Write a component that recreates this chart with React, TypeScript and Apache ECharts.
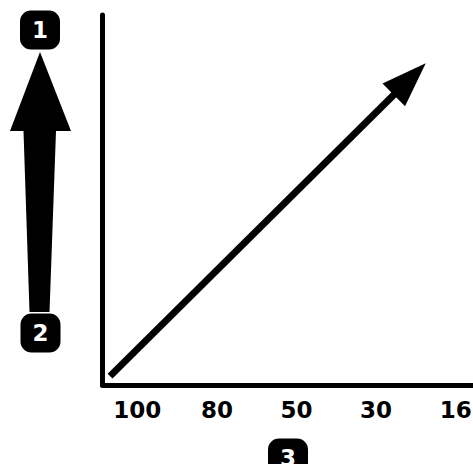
import React, { useEffect, useRef } from "react";
import * as echarts from "echarts";

const categories: string[] = ["100", "80", "50", "30", "16"];
const trendStart: number[] = [1.9, 2.4];
const trendEnd: number[] = [77.2, 82.7];
const markerLabels: string[] = ["1", "2", "3"];

export default function App() {
  const ref = useRef<HTMLDivElement>(null);
  useEffect(() => {
    if (!ref.current) return;
    const chart = echarts.init(ref.current, null, { renderer: "svg" });
    const badge = (text: string, x: number, y: number) => ({
      type: "text",
      x,
      y,
      z: 10,
      style: {
        text,
        fill: "#fff",
        font: "bold 23px 'DejaVu Sans'",
        align: "center",
        verticalAlign: "middle",
        backgroundColor: "#000",
        borderRadius: 11,
        padding: [8, 12, 8, 12],
      },
    });
    chart.setOption({
      animation: false,
      grid: { left: 102.5, right: -27.5, top: 15, bottom: 79, outerBoundsMode: "none", containLabel: false },
      xAxis: [
        {
          type: "category",
          data: categories,
          boundaryGap: true,
          axisLine: { show: true, lineStyle: { color: "#000", width: 5, cap: "round" } },
          axisTick: { show: false },
          splitLine: { show: false },
          axisLabel: {
            color: "#000",
            fontFamily: "DejaVu Sans",
            fontWeight: "bold",
            fontSize: 23,
            margin: 13,
            padding: [0, 10, 0, 0],
            interval: 0,
          },
        },
        { type: "value", min: 0, max: 100, show: false },
      ],
      yAxis: [
        {
          type: "value",
          min: 0,
          max: 100,
          axisLine: { show: true, lineStyle: { color: "#000", width: 5, cap: "round" } },
          axisTick: { show: false },
          axisLabel: { show: false },
          splitLine: { show: false },
        },
        { type: "value", min: 0, max: 100, show: false },
      ],
      series: [
        {
          type: "lines",
          coordinateSystem: "cartesian2d",
          xAxisIndex: 1,
          yAxisIndex: 1,
          symbol: ["none", "triangle"],
          symbolSize: [0, [32, 45]],
          lineStyle: { color: "#000", width: 7, opacity: 1, curveness: 0 },
          itemStyle: { color: "#000" },
          data: [{ coords: [trendStart, trendEnd] }],
        },
      ],
      graphic: [
        {
          type: "polygon",
          shape: {
            points: [
              [40, 52],
              [71, 131],
              [56, 131],
              [49.5, 312],
              [29.5, 312],
              [23.5, 131],
              [10, 131],
            ],
          },
          style: { fill: "#000" },
        },
        badge(markerLabels[0], 40, 30),
        badge(markerLabels[1], 40.5, 333),
        badge(markerLabels[2], 288, 458),
      ],
    });
    return () => chart.dispose();
  }, []);
  return (
    <div
      ref={ref}
      style={{ position: "fixed", left: 0, top: 0, width: 473, height: 464, background: "#fff" }}
    />
  );
}
